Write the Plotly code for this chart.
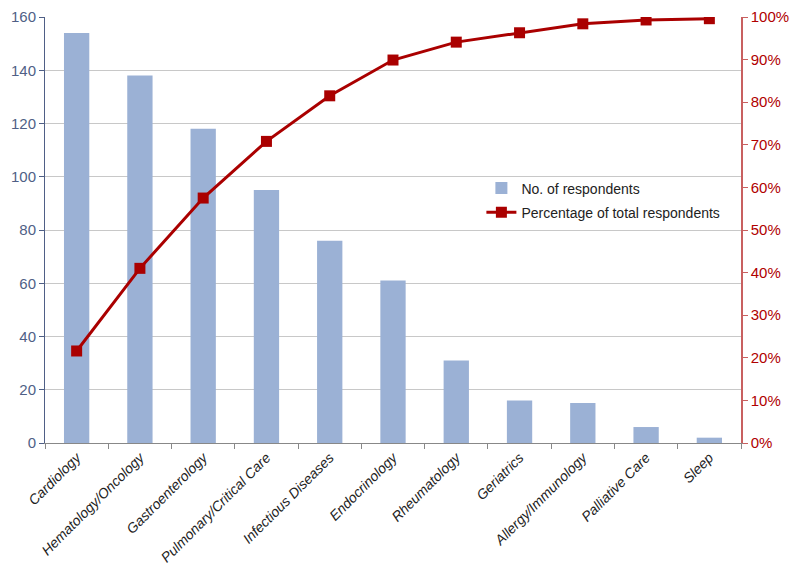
import plotly.graph_objects as go

categories = ["Cardiology", "Hematology/Oncology", "Gastroenterology", "Pulmonary/Critical Care",
              "Infectious Diseases", "Endocrinology", "Rheumatology", "Geriatrics",
              "Allergy/Immunology", "Palliative Care", "Sleep"]
respondents = [154, 138, 118, 95, 76, 61, 31, 16, 15, 6, 2]
cumulative_pct = [21.6, 41.0, 57.5, 70.8, 81.5, 89.9, 94.1, 96.3, 98.4, 99.3, 99.6]

left_ticks = [0, 20, 40, 60, 80, 100, 120, 140, 160]
right_ticks = [0, 10, 20, 30, 40, 50, 60, 70, 80, 90, 100]
right_labels = [f"{v}%" for v in right_ticks]

bar_color = "#9BB1D5"
line_color = "#AA0000"
left_color = "#4F5F86"
right_color = "#B00000"

fig = go.Figure()
fig.add_trace(go.Bar(x=categories, y=respondents, name="No. of respondents",
                     legendgroup="a",
                     marker=dict(color=bar_color, line=dict(width=0))))
fig.add_trace(go.Scatter(x=categories, y=cumulative_pct, name="Percentage of total respondents",
                         legendgroup="b",
                         yaxis="y2", mode="lines+markers",
                         line=dict(color=line_color, width=3),
                         marker=dict(symbol="square", size=11, color=line_color)))

fig.update_layout(
    width=800, height=574,
    margin=dict(l=37, r=67, t=9, b=139),
    paper_bgcolor="white", plot_bgcolor="white",
    font=dict(family="Liberation Sans, Arial, sans-serif", size=14, color="#222222"),
    bargap=0.6,
    showlegend=True,
    legend=dict(x=0.627, y=0.635, xanchor="left", yanchor="top",
                bgcolor="rgba(255,255,255,0)", font=dict(size=14, color="#222222"),
                traceorder="grouped", tracegroupgap=3),
    xaxis=dict(
        type="category", range=[-0.5, len(categories) - 0.5],
        tickson="boundaries", ticks="outside", ticklen=5,
        tickcolor="#888888", showline=True, linecolor="#888888", linewidth=1,
        tickangle=-45, tickfont=dict(size=14, color="#222222", style="italic"),
        showgrid=False, automargin=False,
    ),
    yaxis=dict(
        range=[0, 160], tickvals=left_ticks, ticks="outside", ticklen=5,
        tickcolor=left_color, showline=True, linecolor=left_color, linewidth=1,
        tickfont=dict(size=15, color=left_color),
        showgrid=True, gridcolor="#C8C8C8", gridwidth=1, zeroline=False, automargin=False,
    ),
    yaxis2=dict(
        range=[0, 100], tickvals=right_ticks, ticktext=right_labels,
        overlaying="y", side="right", ticks="outside", ticklen=5,
        tickcolor="#C86060", showline=True, linecolor="#C86060", linewidth=1.5,
        tickfont=dict(size=15, color=right_color), showgrid=False, zeroline=False,
        automargin=False,
    ),
)

fig.write_html("out.html")
